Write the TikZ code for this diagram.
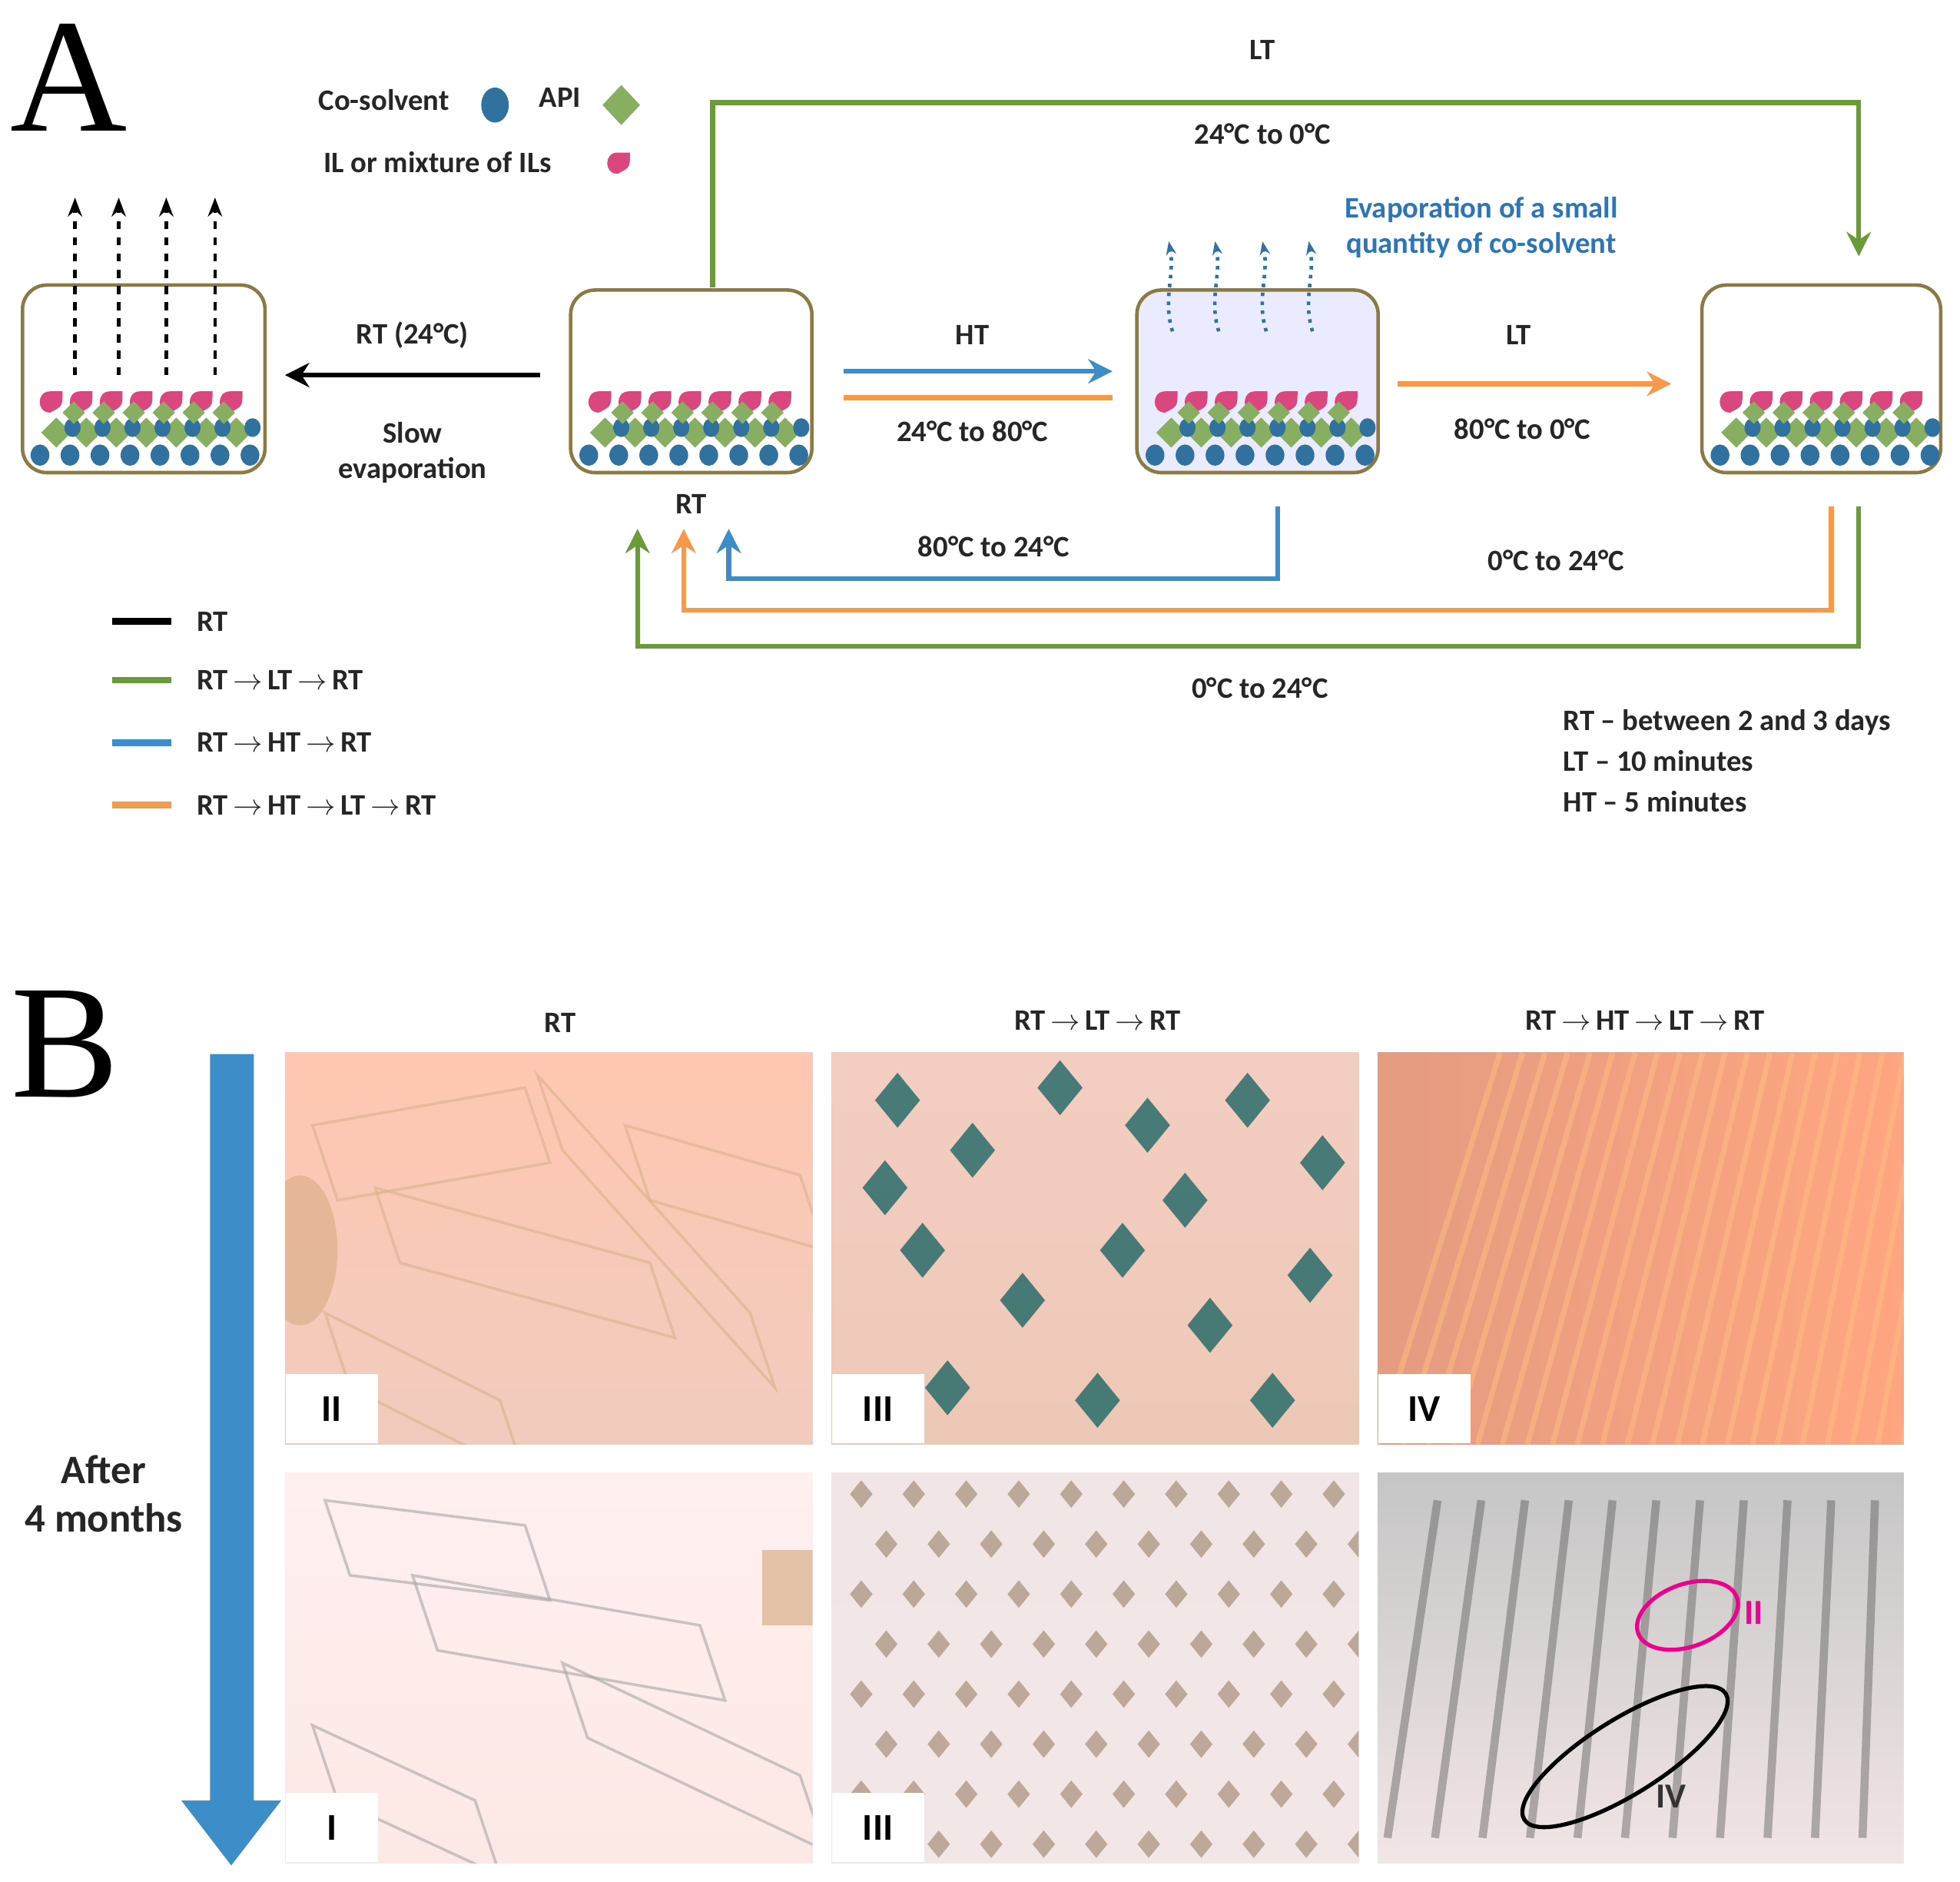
\documentclass[tikz,border=0pt]{standalone}
\usepackage{fontspec}
\setmainfont{Carlito}
\newfontfamily\serifA{Liberation Serif}
\usetikzlibrary{arrows.meta,shapes.geometric}
\definecolor{grn}{HTML}{6A9A3A}
\definecolor{blu}{HTML}{3C8DC8}
\definecolor{org}{HTML}{F7994A}
\definecolor{olv}{HTML}{8C7A45}
\definecolor{txtb}{HTML}{2E75B6}
\definecolor{tear}{HTML}{D9477E}
\newcommand{\ra}{\,$\rightarrow$\,}
\begin{document}
\begin{tikzpicture}[x=0.1627mm,y=-0.1627mm,
  lbl/.style={font=\fontsize{11}{13}\selectfont\bfseries,align=center,text=black!85},
  box/.style={draw=olv,line width=1.3pt,rounded corners=9pt},
  ln/.style={line width=1.8pt},
  arr/.style={ln,-{Stealth[length=9pt,width=9pt]}},
  tag/.style={fill=white,font=\fontsize{14}{16}\selectfont\bfseries,minimum width=12mm,minimum height=9mm,inner sep=0pt}]
\useasboundingbox (0,0) rectangle (1568,1505);
\fill[white] (0,0) rectangle (1568,1505);
\newcommand{\tearat}[2]{\fill[tear] (#1,#2+9) .. controls (#1-11,#2+9) and (#1-11,#2-8) .. (#1,#2-8) -- (#1+10,#2-8) .. controls (#1+10,#2+4) .. (#1,#2+9);}
\newcommand{\parts}[1]{%
  \foreach \i in {0,...,7}{\fill[blu!80!black] (#1+14+\i*24,364) ellipse (7.5 and 8.5);}
  \foreach \i in {0,...,6}{\fill[grn!80] (#1+15+\i*24,346) -- ++(12,-12) -- ++(12,12) -- ++(-12,12) -- cycle;}
  \foreach \i in {0,...,6}{\fill[blu!80!black] (#1+40+\i*24,342) ellipse (6.5 and 7.5);}
  \foreach \i in {0,...,6}{\tearat{#1+22+\i*24}{321}}
  \foreach \i in {0,...,5}{\fill[grn!80] (#1+32+\i*24,330) -- ++(9,-9) -- ++(9,9) -- ++(-9,9) -- cycle;}
}
\node[font=\fontsize{60}{60}\selectfont\serifA] (A) at (55,62) {A};
\node[lbl,anchor=east] (cs) at (367,80) {Co-solvent};
\fill[blu!80!black] (396,84) ellipse (11 and 14);
\node[lbl] (api) at (448,78) {API};
\fill[grn!80] (482,84) -- (497,68) -- (512,84) -- (497,100) -- cycle;
\node[lbl] (il) at (350,130) {IL or mixture of ILs};
\tearat{494}{130}
\node[box,minimum width=194*0.1627mm,minimum height=150*0.1627mm] (b1) at (115,303) {};
\node[box,minimum width=193*0.1627mm,minimum height=146*0.1627mm] (b2) at (553,305) {};
\node[box,fill=blue!8,minimum width=193*0.1627mm,minimum height=146*0.1627mm] (b3) at (1006,305) {};
\node[box,minimum width=191*0.1627mm,minimum height=150*0.1627mm] (b4) at (1457,303) {};
\parts{18}\parts{457}\parts{910}\parts{1362}
\node[lbl] (lt1) at (1010,40) {LT};
\node[lbl] (t1) at (1010,107) {24°C to 0°C};
\coordinate (g0) at (570,230);\coordinate (g1) at (1487,205);
\draw[arr,grn] (g0) -- (570,82) -- (1487,82) -- (g1);
\coordinate (k0) at (432,300);\coordinate (k1) at (228,300);
\draw[arr,black] (k0) -- (k1);
\node[lbl] (rt24) at (330,268) {RT (24°C)};
\node[lbl] (slow) at (330,362) {Slow\\evaporation};
\foreach \x in {60,95,133,172}{\draw[dashed,line width=1.3pt,-{Stealth[length=7pt]}] (\x,300) -- (\x,158);}
\coordinate (h0) at (675,297);\coordinate (h1) at (890,297);
\draw[arr,blu] (h0) -- (h1);
\draw[ln,org] (675,318) -- (890,318);
\node[lbl] (ht) at (778,268) {HT};
\node[lbl] (t2) at (778,345) {24°C to 80°C};
\foreach \x in {935,972,1010,1047}{\draw[dotted,line width=1.3pt,blu!80!black,-{Stealth[length=5pt]}] (\x+3,265) .. controls (\x-5,240) and (\x+5,220) .. (\x,193);}
\node[lbl,text=txtb] (evap) at (1185,182) {Evaporation of a small\\quantity of co-solvent};
\coordinate (o0) at (1118,307);\coordinate (o1) at (1337,307);
\draw[arr,org] (o0) -- (o1);
\node[lbl] (lt2) at (1215,268) {LT};
\node[lbl] (t3) at (1218,343) {80°C to 0°C};
\node[lbl] (rtb) at (553,403) {RT};
\draw[arr,blu] (1022,405) -- (1022,463) -- (583,463) -- (583,423);
\node[lbl] (t4) at (795,437) {80°C to 24°C};
\draw[arr,org] (1465,405) -- (1465,488) -- (547,488) -- (547,423);
\node[lbl] (t5) at (1245,448) {0°C to 24°C};
\draw[arr,grn] (1487,405) -- (1487,517) -- (510,517) -- (510,423);
\node[lbl] (t6) at (1008,550) {0°C to 24°C};
\draw[ln,black,line width=2.5pt] (90,497) -- (137,497);
\node[lbl,anchor=west] at (150,497) {RT};
\draw[ln,grn,line width=2.5pt] (90,544) -- (137,544);
\node[lbl,anchor=west] at (150,544) {RT\ra LT\ra RT};
\draw[ln,blu,line width=2.5pt] (90,594) -- (137,594);
\node[lbl,anchor=west] at (150,594) {RT\ra HT\ra RT};
\draw[ln,org,line width=2.5pt] (90,644) -- (137,644);
\node[lbl,anchor=west] at (150,644) {RT\ra HT\ra LT\ra RT};
\node[lbl,anchor=north west,align=left] at (1243,560) {RT -- between 2 and 3 days\\[2pt]LT -- 10 minutes\\[2pt]HT -- 5 minutes};
\node[font=\fontsize{60}{60}\selectfont\serifA] (B) at (52,835) {B};
\node[lbl] at (448,818) {RT};
\node[lbl] at (878,816) {RT\ra LT\ra RT};
\node[lbl] at (1316,816) {RT\ra HT\ra LT\ra RT};
\shade[top color=orange!25!pink!70,bottom color=brown!35!pink!60] (228,842) rectangle (650,1155);
\shade[top color=brown!30!pink!60,bottom color=brown!45!pink!60] (665,842) rectangle (1087,1155);
\shade[left color=brown!70!red!60,right color=orange!60!red!50] (1102,842) rectangle (1523,1155);
\shade[top color=pink!25,bottom color=brown!15!pink!30] (228,1178) rectangle (650,1490);
\shade[top color=gray!35!pink!30,bottom color=gray!30!pink!30] (665,1178) rectangle (1087,1490);
\shade[top color=gray!45,bottom color=gray!35!pink!30] (1102,1178) rectangle (1523,1490);
\begin{scope}
\clip (228,842) rectangle (650,1155);
\foreach \a/\b/\c/\d in {250/900/420/870,300/950/520/1010,430/860/600/1050,260/1050/400/1120,500/900/640/940}
  \draw[brown!60,line width=1pt,opacity=.6] (\a,\b) -- (\c,\d) -- ++(20,60) -- (\a+20,\b+60) -- cycle;
\fill[brown!70,opacity=.5] (240,1000) ellipse (30 and 60);
\end{scope}
\begin{scope}
\clip (228,1178) rectangle (650,1490);
\foreach \a/\b/\c/\d in {260/1200/420/1220,330/1260/560/1300,450/1330/640/1420,250/1380/380/1440}
  \draw[gray!70,line width=1pt,opacity=.6] (\a,\b) -- (\c,\d) -- ++(20,60) -- (\a+20,\b+60) -- cycle;
\fill[brown!70,opacity=.6] (610,1240) rectangle (650,1300);
\end{scope}
\begin{scope}
\clip (665,842) rectangle (1087,1155);
\foreach \x/\y in {700/880,760/920,830/870,900/900,980/880,1040/930,720/1000,800/1040,880/1000,950/1060,1030/1020,740/1110,860/1120,1000/1120,930/960,690/950}
  \fill[teal!70!black,opacity=.7] (\x,\y) -- ++(18,-22) -- ++(18,22) -- ++(-18,22) -- cycle;
\end{scope}
\begin{scope}
\clip (1102,842) rectangle (1523,1155);
\foreach \i in {0,...,22}{\draw[orange!50!white,line width=2pt,opacity=.5] (1102+\i*20,1155) -- (1200+\i*18,842);}
\end{scope}
\begin{scope}
\clip (665,1178) rectangle (1087,1490);
\foreach \x in {0,...,9}{\foreach \y in {0,...,7}{
  \pgfmathsetmacro{\xx}{680+\x*42+mod(\y,2)*20}
  \fill[gray!60!brown,opacity=.6] (\xx,1195+\y*40) -- ++(9,-11) -- ++(9,11) -- ++(-9,11) -- cycle;}}
\end{scope}
\begin{scope}
\clip (1102,1178) rectangle (1523,1490);
\foreach \i in {0,...,10}{\draw[gray!60!black,line width=3pt,opacity=.4] (1110+\i*38,1470) -- (1150+\i*35,1200);}
\end{scope}
\node[tag,anchor=south west] at (228,1155) {II};
\node[tag,anchor=south west] at (665,1155) {III};
\node[tag,anchor=south west] at (1102,1155) {IV};
\node[tag,anchor=south west] at (228,1490) {I};
\node[tag,anchor=south west] at (665,1490) {III};
\draw[magenta,line width=1.5pt,rotate around={20:(1350,1292)}] (1350,1292) ellipse (42 and 25);
\node[font=\fontsize{13}{15}\selectfont\bfseries,text=magenta] at (1403,1290) {II};
\draw[black,line width=1.5pt,rotate around={32:(1300,1405)}] (1300,1405) ellipse (95 and 30);
\node[font=\fontsize{13}{15}\selectfont\bfseries,text=black!80] at (1337,1437) {IV};
\fill[blu] (168,843) -- (203,843) -- (203,1440) -- (225,1440) -- (185,1492) -- (145,1440) -- (168,1440) -- cycle;
\node[font=\fontsize{15}{18}\selectfont\bfseries,align=center,text=black!85] (after) at (83,1195) {After\\4 months};
\end{tikzpicture}
\end{document}
